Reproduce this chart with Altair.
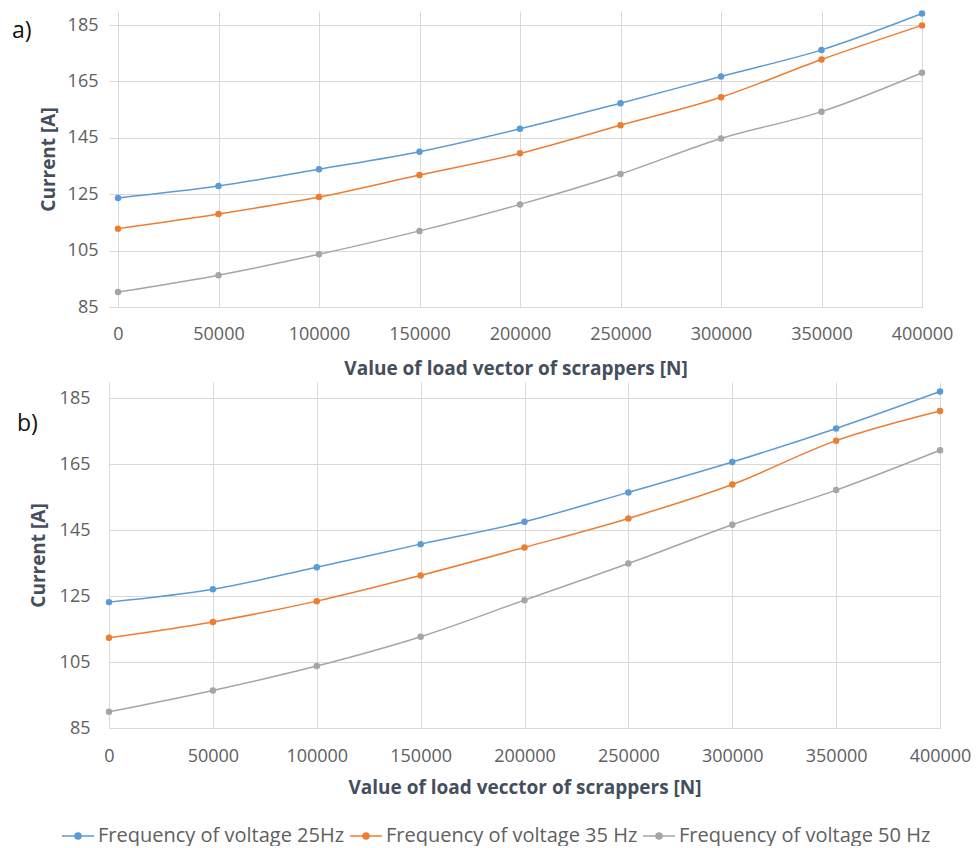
import altair as alt
import pandas as pd

# ---- data ----
load_values = [0, 50000, 100000, 150000, 200000, 250000, 300000, 350000, 400000]
series_names = ["Frequency of voltage 25Hz", "Frequency of voltage 35 Hz", "Frequency of voltage 50 Hz"]
series_colors = ["#5B9BD5", "#ED7D31", "#A5A5A5"]

a_25hz = [123.7, 127.9, 133.9, 140.1, 148.2, 157.3, 166.8, 176.2, 189.1]
a_35hz = [112.8, 118.0, 124.0, 131.8, 139.5, 149.5, 159.4, 172.8, 184.9]
a_50hz = [90.3, 96.3, 103.7, 112.0, 121.4, 132.2, 144.8, 154.3, 168.1]

b_25hz = [123.2, 127.1, 133.8, 140.8, 147.6, 156.5, 165.7, 175.9, 187.1]
b_35hz = [112.4, 117.2, 123.5, 131.3, 139.8, 148.6, 158.9, 172.2, 181.2]
b_50hz = [89.9, 96.4, 103.8, 112.7, 123.8, 134.9, 146.7, 157.2, 169.3]

y_ticks = [85, 105, 125, 145, 165, 185]
y_domain = [85, 190]
x_domain_a = [-4478, 400000]
x_domain_b = [0, 400000]

x_title_a = "Value of load vector of scrappers [N]"
x_title_b = "Value of load vecctor of scrappers [N]"
y_title = "Current [A]"

FONT = "Open Sans"
LABEL_COLOR = "#606060"
TITLE_COLOR = "#444e5c"


def make_df(s25, s35, s50):
    rows = []
    for name, vals in zip(series_names, [s25, s35, s50]):
        for xv, yv in zip(load_values, vals):
            rows.append({"load": xv, "current": yv, "series": name})
    return pd.DataFrame(rows)


legend = alt.Legend(
    title=None,
    orient="none",
    legendX=-41,
    legendY=815,
    direction="horizontal",
    columns=3,
    symbolType="M-3.2,0L3.2,0M-0.6,0A0.6,0.6,0,1,1,0.6,0A0.6,0.6,0,1,1,-0.6,0Z",
    symbolSize=100,
    symbolStrokeWidth=1.5,
    labelFont=FONT,
    labelFontSize=20,
    labelColor=LABEL_COLOR,
    labelOffset=10,
    labelLimit=0,
    columnPadding=2,
    padding=0,
)

color_enc = alt.Color(
    "series:N",
    scale=alt.Scale(domain=series_names, range=series_colors),
    legend=legend,
    sort=series_names,
)


def panel(df, x_domain, x_title, tag, tag_x, tag_y, w, h, lab_pad, title_y, ylab_pad, title_x):
    base = alt.Chart(df)
    x = alt.X(
        "load:Q",
        scale=alt.Scale(domain=x_domain, nice=False, zero=False),
        axis=alt.Axis(values=load_values, format="d", title=x_title,
                      labelPadding=lab_pad, labelBaseline="middle",
                      labelFlush=False, labelOverlap=False,
                      titleY=title_y, titleBaseline="middle"),
    )
    y = alt.Y(
        "current:Q",
        scale=alt.Scale(domain=y_domain, nice=False, zero=False),
        axis=alt.Axis(values=y_ticks, title=y_title, labelPadding=ylab_pad,
                      labelFlush=False, labelOverlap=False,
                      titleX=title_x, titleBaseline="middle"),
    )
    line = base.mark_line(interpolate="monotone", strokeWidth=1.5).encode(x=x, y=y, color=color_enc)
    pts = base.mark_point(filled=True, size=42, opacity=1).encode(x=x, y=y, color=color_enc)
    lab = alt.Chart(pd.DataFrame({"t": [tag]})).mark_text(
        align="left", baseline="middle", font=FONT, fontSize=23, color="#111111"
    ).encode(text="t:N", x=alt.value(tag_x), y=alt.value(tag_y))
    return alt.layer(line, pts, lab).properties(width=w, height=h)


pa = panel(make_df(a_25hz, a_35hz, a_50hz), x_domain_a, x_title_a, "a)", -97, 20,
           813, 296, 27, 61, 11, -61)
pb = panel(make_df(b_25hz, b_35hz, b_50hz), x_domain_b, x_title_b, "b)", -92, 42,
           831, 346, 28, 59, 19, -71)

chart = alt.concat(pa, pb, columns=1, spacing=4).properties(
    padding={"left": 4, "top": 2, "right": 0, "bottom": 0}
).configure_view(stroke=None).configure_axis(
    grid=True,
    gridColor="#D9D9D9",
    gridWidth=1,
    domain=False,
    ticks=False,
    tickSize=0,
    labelFont=FONT,
    labelFontSize=18,
    labelColor=LABEL_COLOR,
    titleFont=FONT,
    titleFontSize=19,
    titleFontWeight="bold",
    titleColor=TITLE_COLOR,
)

chart.save("out.html", embed_options={"renderer": "svg", "actions": False})
